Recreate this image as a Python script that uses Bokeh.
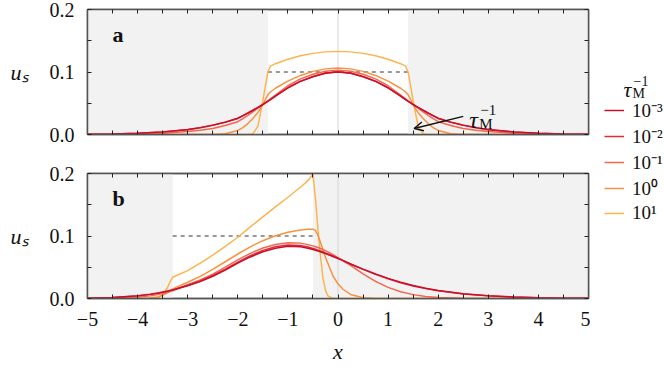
from bokeh.plotting import figure
from bokeh.models import (Range1d, LinearAxis, FixedTicker, CustomJSTickFormatter,
                          PrintfTickFormatter, BoxAnnotation, Span, Label, Arrow, OpenHead,
                          Legend, LegendItem)
from bokeh.layouts import row, column
from bokeh.embed import file_html
from bokeh.resources import INLINE

# ---------------- data ----------------
series_labels = ["10\u207b\u00b3", "10\u207b\u00b2", "10\u207b\u00b9", "10\u2070", "10\u00b9"]
series_colors = ["#c8102e", "#e3293a", "#f3674c", "#f8923f", "#fdb44e"]

x_ticks = [-5, -4, -3, -2, -1, 0, 1, 2, 3, 4, 5]
x_minor = [-4.5, -3.5, -2.5, -1.5, -0.5, 0.5, 1.5, 2.5, 3.5, 4.5]
y_ticks = [0.0, 0.1, 0.2]
y_minor = [0.05, 0.15]

threshold = 0.1
a_window = [-1.4, 1.4]
b_window = [-3.3, -0.5]

# panel a (symmetric case)
xa = [-5.0, -4.5, -4.0, -3.5, -3.0, -2.75, -2.5, -2.25, -2.0, -1.9, -1.8, -1.7, -1.6, -1.55,
      -1.5, -1.45, -1.4, -1.35, -1.25, -1.0, -0.75, -0.5, -0.25, 0.0, 0.25, 0.5, 0.75, 1.0,
      1.25, 1.35, 1.4, 1.45, 1.5, 1.55, 1.6, 1.7, 1.8, 1.9, 2.0, 2.25, 2.5, 2.75, 3.0, 3.5,
      4.0, 4.5, 5.0]
ua_m3 = [0.0005, 0.001, 0.0021, 0.0042, 0.008, 0.011, 0.015, 0.0198, 0.026, 0.0301, 0.0344,
         0.0388, 0.0433, 0.0456, 0.048, 0.0505, 0.0531, 0.0558, 0.0613, 0.0745, 0.085, 0.0925,
         0.098, 0.1, 0.098, 0.0925, 0.085, 0.0745, 0.0613, 0.0558, 0.0531, 0.0505, 0.048,
         0.0456, 0.0433, 0.0388, 0.0344, 0.0301, 0.026, 0.0198, 0.015, 0.011, 0.008, 0.0042,
         0.0021, 0.001, 0.0005]
ua_m2 = [0.0004, 0.0009, 0.0019, 0.004, 0.0077, 0.0107, 0.0147, 0.0195, 0.0257, 0.0298, 0.0341,
         0.0386, 0.0431, 0.0455, 0.0479, 0.0505, 0.0532, 0.0559, 0.0615, 0.0748, 0.0853, 0.0928,
         0.0984, 0.1003, 0.0984, 0.0928, 0.0853, 0.0748, 0.0615, 0.0559, 0.0532, 0.0505, 0.0479,
         0.0455, 0.0431, 0.0386, 0.0341, 0.0298, 0.0257, 0.0195, 0.0147, 0.0107, 0.0077, 0.004,
         0.0019, 0.0009, 0.0004]
ua_m1 = [0.0001, 0.0003, 0.0008, 0.002, 0.0047, 0.0068, 0.0097, 0.0143, 0.0205, 0.0255, 0.0307,
         0.0362, 0.042, 0.045, 0.048, 0.051, 0.054, 0.057, 0.063, 0.078, 0.089, 0.0965,
         0.1013, 0.103, 0.1013, 0.0965, 0.089, 0.078, 0.063, 0.057, 0.054, 0.051, 0.048,
         0.045, 0.042, 0.0362, 0.0307, 0.0255, 0.0205, 0.0143, 0.0097, 0.0068, 0.0047, 0.002,
         0.0008, 0.0003, 0.0001]
ua_0 = [0.0, 0.0, 0.0, 0.0, 0.0, 0.0, 0.0001, 0.0012, 0.0065, 0.011, 0.0175,
        0.0255, 0.035, 0.041, 0.048, 0.056, 0.0635, 0.068, 0.074, 0.0855, 0.0945, 0.101,
        0.105, 0.1065, 0.105, 0.101, 0.0945, 0.0855, 0.074, 0.068, 0.0635, 0.056, 0.048,
        0.041, 0.035, 0.0255, 0.0175, 0.011, 0.0065, 0.0012, 0.0001, 0.0, 0.0, 0.0,
        0.0, 0.0, 0.0]
ua_1 = [0.0, 0.0, 0.0, 0.0, 0.0, 0.0, 0.0, 0.0, 0.0, 0.0, 0.0,
        0.001, 0.013, 0.033, 0.054, 0.077, 0.1, 0.1093, 0.1133, 0.1204, 0.1259, 0.1298,
        0.1322, 0.133, 0.1322, 0.1298, 0.1259, 0.1204, 0.1133, 0.1093, 0.1, 0.077, 0.054,
        0.033, 0.013, 0.001, 0.0, 0.0, 0.0, 0.0, 0.0, 0.0, 0.0, 0.0,
        0.0, 0.0, 0.0]

# panel b (asymmetric case)
xb = [-5.0, -4.5, -4.0, -3.75, -3.6, -3.5, -3.4, -3.35, -3.3, -3.0, -2.75, -2.5, -2.25, -2.0,
      -1.75, -1.5, -1.25, -1.0, -0.75, -0.6, -0.5, -0.45, -0.4, -0.35, -0.3, -0.25, -0.2, -0.1,
      0.0, 0.1, 0.25, 0.5, 0.75, 1.0, 1.25, 1.5, 1.75, 2.0, 2.5, 3.0, 3.5, 4.0, 4.5, 5.0]
ub_m3 = [0.0004, 0.0015, 0.0042, 0.0066, 0.0085, 0.01, 0.0117, 0.0126, 0.0135, 0.0205, 0.027,
         0.0355, 0.0455, 0.0565, 0.0665, 0.0748, 0.0805, 0.0835, 0.0828, 0.0805, 0.0785, 0.0773,
         0.076, 0.0747, 0.0733, 0.0718, 0.0703, 0.0672, 0.064, 0.0605, 0.0553, 0.047, 0.0392,
         0.0322, 0.026, 0.0208, 0.0164, 0.0128, 0.0077, 0.0045, 0.0025, 0.0013, 0.0006, 0.0003]
ub_m2 = [0.0004, 0.0015, 0.0043, 0.0068, 0.0088, 0.0103, 0.012, 0.0129, 0.0138, 0.0212, 0.0281,
         0.0368, 0.0471, 0.0583, 0.0685, 0.077, 0.0828, 0.0857, 0.0848, 0.0823, 0.0801, 0.0788,
         0.0774, 0.076, 0.0745, 0.0729, 0.0713, 0.068, 0.0646, 0.0609, 0.0553, 0.0466, 0.0386,
         0.0315, 0.0253, 0.0201, 0.0158, 0.0123, 0.0073, 0.0042, 0.0023, 0.0012, 0.0006, 0.0003]
ub_m1 = [0.0001, 0.0006, 0.0022, 0.0042, 0.0062, 0.0078, 0.0098, 0.011, 0.0125, 0.022, 0.0298,
         0.039, 0.0502, 0.0618, 0.0722, 0.0808, 0.0865, 0.0893, 0.0886, 0.0862, 0.0842, 0.0829,
         0.0815, 0.08, 0.0783, 0.0765, 0.0745, 0.0703, 0.0655, 0.0607, 0.053, 0.0395, 0.0275,
         0.0178, 0.0108, 0.0062, 0.0033, 0.0017, 0.0004, 0.0001, 0.0, 0.0, 0.0, 0.0]
ub_0 = [0.0, 0.0, 0.0001, 0.0008, 0.0025, 0.005, 0.0095, 0.0125, 0.0155, 0.026, 0.0355,
        0.0465, 0.0588, 0.0712, 0.0827, 0.0925, 0.1005, 0.106, 0.1095, 0.1108, 0.111, 0.109,
        0.101, 0.09, 0.078, 0.066, 0.056, 0.036, 0.0235, 0.0148, 0.0065, 0.0012, 0.0002,
        0.0, 0.0, 0.0, 0.0, 0.0, 0.0, 0.0, 0.0, 0.0, 0.0, 0.0]
ub_1 = [0.0, 0.0, 0.0, 0.0, 0.001, 0.006, 0.018, 0.027, 0.034, 0.0445, 0.0565,
        0.0695, 0.0835, 0.098, 0.1145, 0.1305, 0.1465, 0.162, 0.178, 0.1885, 0.199, 0.16,
        0.11, 0.068, 0.033, 0.013, 0.004, 0.0003, 0.0, 0.0, 0.0, 0.0, 0.0,
        0.0, 0.0, 0.0, 0.0, 0.0, 0.0, 0.0, 0.0, 0.0, 0.0, 0.0]

panel_a_series = [ua_m3, ua_m2, ua_m1, ua_0, ua_1]
panel_b_series = [ub_m3, ub_m2, ub_m1, ub_0, ub_1]

# ---------------- styling ----------------
FONT = "Liberation Serif"
TICK_FS = "20px"
FRAME_COL = "#555555"
SHADE = "#f2f2f2"
INK = "#111111"

x_range = Range1d(-5, 5)


def style_axis(ax, ticks, minor, show_labels, vertical_hidden=False):
    ax.ticker = FixedTicker(ticks=ticks, minor_ticks=minor)
    ax.major_tick_in = 4
    ax.major_tick_out = 0
    ax.minor_tick_in = 4
    ax.minor_tick_out = 0
    ax.major_tick_line_color = "#222222"
    ax.minor_tick_line_color = "#222222"
    ax.axis_line_color = FRAME_COL
    ax.axis_line_width = 1.5
    ax.major_label_text_font = FONT
    ax.major_label_text_font_size = TICK_FS
    ax.major_label_text_color = INK
    if not show_labels:
        ax.formatter = CustomJSTickFormatter(code="return '';")
        ax.major_label_standoff = 0
        if vertical_hidden:
            ax.major_label_orientation = "vertical"


def panel(xs, series, window, height, b_top, b_bottom, letter, bottom_labels):
    p = figure(width=590, height=height, x_range=x_range, y_range=Range1d(0, 0.2),
               output_backend="svg", toolbar_location=None,
               min_border_left=87, min_border_right=2,
               min_border_top=b_top, min_border_bottom=b_bottom)
    p.grid.visible = False
    p.outline_line_color = FRAME_COL
    p.outline_line_width = 1.5
    p.background_fill_color = "white"
    p.border_fill_color = "white"

    xb_ax = p.xaxis[0]
    style_axis(xb_ax, x_ticks, x_minor, bottom_labels, vertical_hidden=True)
    if bottom_labels:
        xb_ax.formatter = CustomJSTickFormatter(
            code="return tick < 0 ? '\\u2212' + Math.abs(tick) : String(tick);")
        xb_ax.major_label_standoff = 13
        xb_ax.axis_label = "x"
        xb_ax.axis_label_text_font = FONT
        xb_ax.axis_label_text_font_style = "italic"
        xb_ax.axis_label_text_font_size = "22px"
        xb_ax.axis_label_standoff = 10
        xb_ax.axis_label_text_color = INK
    yl = p.yaxis[0]
    style_axis(yl, y_ticks, y_minor, True)
    yl.formatter = PrintfTickFormatter(format="%.1f")
    yl.major_label_standoff = 13
    yl.axis_label = "u\u209b"
    yl.axis_label_orientation = "horizontal"
    yl.axis_label_text_font = FONT
    yl.axis_label_text_font_style = "italic"
    yl.axis_label_text_font_size = "22px"
    yl.axis_label_standoff = 18
    yl.axis_label_text_color = INK

    top = LinearAxis()
    p.add_layout(top, "above")
    style_axis(top, x_ticks, x_minor, False, vertical_hidden=True)
    right = LinearAxis()
    p.add_layout(right, "right")
    style_axis(right, y_ticks, y_minor, False)

    # shaded regions outside the window
    p.add_layout(BoxAnnotation(right=window[0], fill_color=SHADE, fill_alpha=1.0,
                               line_alpha=0, level="underlay"))
    p.add_layout(BoxAnnotation(left=window[1], fill_color=SHADE, fill_alpha=1.0,
                               line_alpha=0, level="underlay"))
    p.add_layout(Span(location=0, dimension="height", line_color="#d6d6d6",
                      line_width=1, level="underlay"))

    # threshold inside the window
    p.line(x=window, y=[threshold, threshold], line_color="#333333", line_width=1,
           line_dash="4 4")

    for ys, col in reversed(list(zip(series, series_colors))):
        p.line(x=xs, y=ys, line_color=col, line_width=1.5)

    # panel letter
    p.add_layout(Label(x=-4.5, y=0.16, text=letter, text_font=FONT, text_font_style="bold",
                       text_font_size="22px", text_baseline="alphabetic", text_color=INK))
    return p


pa = panel(xa, panel_a_series, a_window, 153, 9, 19, "a", False)
pb = panel(xb, panel_b_series, b_window, 214, 20, 69, "b", True)

# annotation in panel a
pa.add_layout(Arrow(end=OpenHead(size=9, line_width=1.5, line_color=INK),
                    x_start=2.5, y_start=0.029, x_end=1.52, y_end=0.0096,
                    line_width=1.5, line_color=INK))
pa.add_layout(Label(x=2.62, y=0.024, text="\u03c4", text_font=FONT, text_font_style="italic",
                    text_font_size="24px", text_baseline="alphabetic", text_color=INK))
pa.add_layout(Label(x=2.62, y=0.024, x_offset=10, y_offset=-4, text="M", text_font=FONT,
                    text_font_size="15px", text_baseline="alphabetic", text_color=INK))
pa.add_layout(Label(x=2.62, y=0.024, x_offset=11, y_offset=10, text="\u22121", text_font=FONT,
                    text_font_size="15px", text_baseline="alphabetic", text_color=INK))

# legend column
lg = figure(width=74, height=367, x_range=Range1d(0, 74), y_range=Range1d(0, 367),
            x_axis_location=None, y_axis_location=None, min_border=0,
            output_backend="svg", toolbar_location=None)
lg.grid.visible = False
lg.outline_line_color = None
lg.background_fill_color = "white"
lg.border_fill_color = "white"
lg.extra_x_ranges = {"hidden": Range1d(100, 200)}
items = []
for xs_, ys_, lab, col in zip([xa] * 5, panel_a_series, series_labels, series_colors):
    r = lg.line(x=xs_, y=ys_, line_color=col, line_width=1.5, x_range_name="hidden")
    items.append(LegendItem(label=lab, renderers=[r]))
legend = Legend(items=items, location=(14, 142), padding=0, margin=0, spacing=0,
                glyph_width=20, glyph_height=24, label_height=24, label_standoff=8,
                label_text_font=FONT, label_text_font_size="19px",
                label_text_color=INK, border_line_color=None,
                background_fill_alpha=0)
lg.add_layout(legend)
lg.add_layout(Label(x=33, y=278, text="\u03c4", text_font=FONT, text_font_style="italic",
                    text_font_size="22px", text_baseline="alphabetic", text_color=INK))
lg.add_layout(Label(x=33, y=278, x_offset=9, y_offset=-4, text="M", text_font=FONT,
                    text_font_size="14px", text_baseline="alphabetic", text_color=INK))
lg.add_layout(Label(x=33, y=278, x_offset=10, y_offset=9, text="\u22121", text_font=FONT,
                    text_font_size="14px", text_baseline="alphabetic", text_color=INK))

layout = row(column(pa, pb), lg)
open("out.html", "w").write(file_html(layout, INLINE))
